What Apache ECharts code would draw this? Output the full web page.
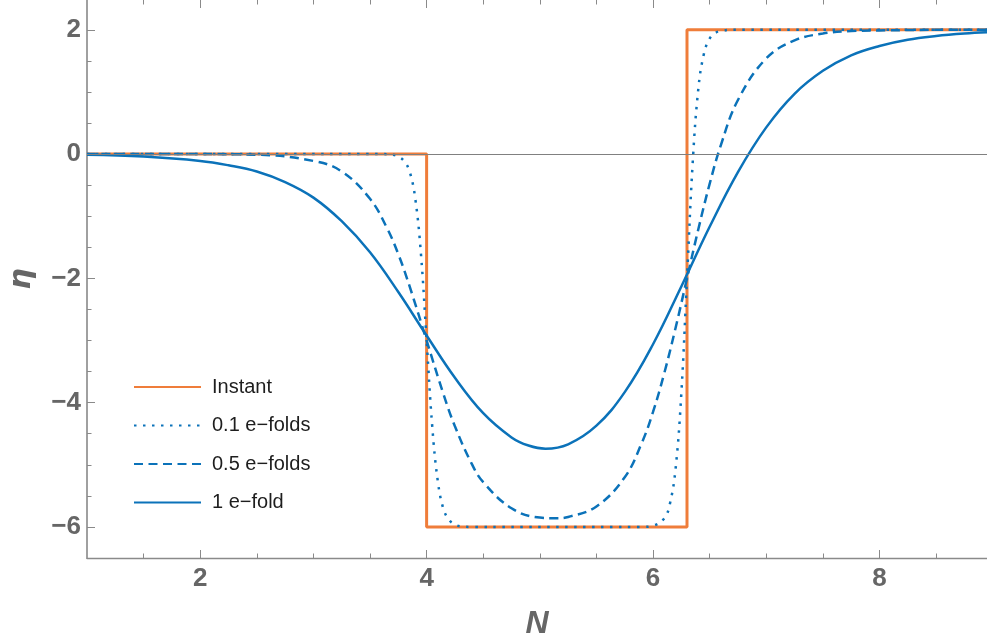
<!DOCTYPE html>
<html>
<head>
<meta charset="utf-8">
<script src="https://cdn.jsdelivr.net/npm/echarts@6/dist/echarts.min.js"></script>
<style>
  html, body { margin: 0; padding: 0; background: #fff; }
  #chart { width: 987px; height: 644px; }
</style>
</head>
<body>
<div id="chart"></div>
<script>
// values
const xMajorTicks = [2, 4, 6, 8];
const xMinorTicks = [1.5, 2.5, 3, 3.5, 4.5, 5, 5.5, 6.5, 7, 7.5, 8.5];
const yMajorTicks = [-6, -4, -2, 0, 2];
const yMinorTicks = [-6.5, -5.5, -5, -4.5, -3.5, -3, -2.5, -1.5, -1, -0.5, 0.5, 1, 1.5];

const instant = [[1, 0], [4, 0], [4, -6], [6.3, -6], [6.3, 2], [8.95, 2]];

const tenthFold = [
  [1, 0], [3.6, 0], [3.7, -0.01], [3.75, -0.04], [3.8, -0.11], [3.85, -0.28],
  [3.9, -0.72], [3.95, -1.61], [4, -3], [4.05, -4.39], [4.1, -5.28], [4.15, -5.72],
  [4.2, -5.89], [4.25, -5.96], [4.3, -5.99], [4.4, -6], [5.9, -6], [6, -5.98],
  [6.1, -5.86], [6.15, -5.62], [6.2, -5.05], [6.25, -3.85], [6.3, -2], [6.35, -0.15],
  [6.4, 1.05], [6.45, 1.62], [6.5, 1.86], [6.55, 1.95], [6.6, 1.98], [6.7, 2], [8.95, 2]
];

const halfFold = [
  [1, 0], [2, 0], [2.5, -0.01], [3, -0.11], [3.25, -0.28], [3.5, -0.72], [3.65, -1.19],
  [3.75, -1.61], [3.85, -2.13], [4, -3], [4.15, -3.87], [4.25, -4.38], [4.4, -4.99],
  [4.5, -5.28], [4.75, -5.7], [5, -5.85], [5.15, -5.86], [5.25, -5.84], [5.5, -5.67],
  [5.75, -5.2], [5.9, -4.65], [6, -4.15], [6.1, -3.52], [6.2, -2.79], [6.3, -2],
  [6.4, -1.21], [6.5, -0.48], [6.6, 0.15], [6.75, 0.87], [7, 1.54], [7.25, 1.83],
  [7.5, 1.94], [7.75, 1.98], [8, 1.99], [8.5, 2], [8.95, 2]
];

const oneFold = [
  [1, -0.01], [1.5, -0.04], [2, -0.11], [2.25, -0.18], [2.5, -0.28], [2.75, -0.45],
  [3, -0.7], [3.25, -1.08], [3.5, -1.58], [3.75, -2.22], [4, -2.92], [4.25, -3.6],
  [4.5, -4.17], [4.75, -4.56], [4.9, -4.69], [5.05, -4.74], [5.25, -4.67],
  [5.5, -4.37], [5.75, -3.83], [6, -3.06], [6.25, -2.13], [6.5, -1.17], [6.75, -0.29],
  [7, 0.43], [7.25, 0.97], [7.5, 1.34], [7.75, 1.59], [8, 1.74], [8.25, 1.84],
  [8.5, 1.9], [8.75, 1.94], [8.95, 1.96]
];

const names = ['Instant', '0.1 e\u2212folds', '0.5 e\u2212folds', '1 e\u2212fold'];

const orange = '#ef7d3a';
const blue = '#0b72b9';
const axisGray = '#8a8a8a';
const labelGray = '#666666';
const numFont = '"Liberation Sans", Arial, sans-serif';

const xMin = 1, xMax = 8.95, yMin = -6.5, yMax = 2.48;

const minus = v => String(v).replace('-', '\u2212');

function xAxisDef(pos, ticks, len, withLabels, showLine) {
  return {
    type: 'value', position: pos, min: xMin, max: xMax,
    axisLine: { show: showLine, onZero: false, lineStyle: { color: axisGray, width: 1.3 } },
    axisTick: { show: true, inside: true, length: len, customValues: ticks, lineStyle: { color: axisGray, width: 1 } },
    axisLabel: withLabels ? {
      show: true, customValues: ticks, margin: 8, color: labelGray,
      fontSize: 26, fontWeight: 'bold', fontFamily: numFont
    } : { show: false },
    splitLine: { show: false }
  };
}

function yAxisDef(ticks, len, withLabels, showLine) {
  return {
    type: 'value', position: 'left', min: yMin, max: yMax,
    axisLine: { show: showLine, onZero: false, lineStyle: { color: '#a0a0a0', width: 2 } },
    axisTick: { show: true, inside: true, length: len, customValues: ticks, lineStyle: { color: axisGray, width: 1 } },
    axisLabel: withLabels ? {
      show: true, customValues: ticks, margin: 6, color: labelGray,
      fontSize: 26, fontWeight: 'bold', fontFamily: numFont, formatter: minus
    } : { show: false },
    splitLine: { show: false }
  };
}

const chart = echarts.init(document.getElementById('chart'), null, { renderer: 'canvas' });

const xAxes = [
  xAxisDef('bottom', xMajorTicks, 8, true, true),
  xAxisDef('bottom', xMinorTicks, 4.5, false, false),
  xAxisDef('top', xMajorTicks, 8, false, false),
  xAxisDef('top', xMinorTicks, 4.5, false, false)
];
xAxes[0].name = 'N';
xAxes[0].nameLocation = 'middle';
xAxes[0].nameGap = 50;
xAxes[0].nameTextStyle = { color: labelGray, fontSize: 32, fontWeight: 'bold', fontStyle: 'italic', fontFamily: numFont };

const yAxes = [
  yAxisDef(yMajorTicks, 8, true, true),
  yAxisDef(yMinorTicks, 4.5, false, false)
];
yAxes[0].name = '\u03b7';
yAxes[0].nameLocation = 'middle';
yAxes[0].nameRotate = 90;
yAxes[0].nameGap = 50;
yAxes[0].nameTextStyle = { color: labelGray, fontSize: 30, fontWeight: 'bold', fontStyle: 'italic', fontFamily: '"DejaVu Sans", sans-serif' };

function lineSeries(name, data, color, width, type) {
  return {
    name: name, type: 'line', data: data, xAxisIndex: 0, yAxisIndex: 0,
    showSymbol: false, symbol: 'none', smooth: 0.4,
    clip: true, animation: false,
    lineStyle: { color: color, width: width, type: type, cap: 'butt' },
    itemStyle: { color: color }
  };
}

const seriesList = [
  lineSeries(names[0], instant, orange, 3, 'solid'),
  lineSeries(names[1], tenthFold, blue, 2.5, [2.5, 6.5]),
  lineSeries(names[2], halfFold, blue, 2.5, [9, 5.5]),
  lineSeries(names[3], oneFold, blue, 2.5, 'solid')
];
seriesList[0].smooth = false;
seriesList[0].markLine = {
  silent: true, symbol: 'none', animation: false,
  label: { show: false },
  lineStyle: { color: '#808080', width: 1, type: 'solid' },
  data: [{ yAxis: 0 }]
};
seriesList[0].z = 1;

chart.setOption({
  animation: false,
  backgroundColor: '#ffffff',
  grid: { left: 87, right: 0, top: 0, bottom: 86, containLabel: false, outerBoundsMode: 'none' },
  xAxis: xAxes,
  yAxis: yAxes,
  legend: {
    data: names,
    orient: 'vertical',
    left: 128, top: 372,
    itemWidth: 67, itemHeight: 14, itemGap: 18.5,
    itemStyle: { opacity: 0 },
    textStyle: { color: '#1e1e1e', fontSize: 20, fontFamily: '"Liberation Sans", Arial, sans-serif', padding: [0, 0, 0, 6] }
  },
  series: seriesList
});
</script>
</body>
</html>
